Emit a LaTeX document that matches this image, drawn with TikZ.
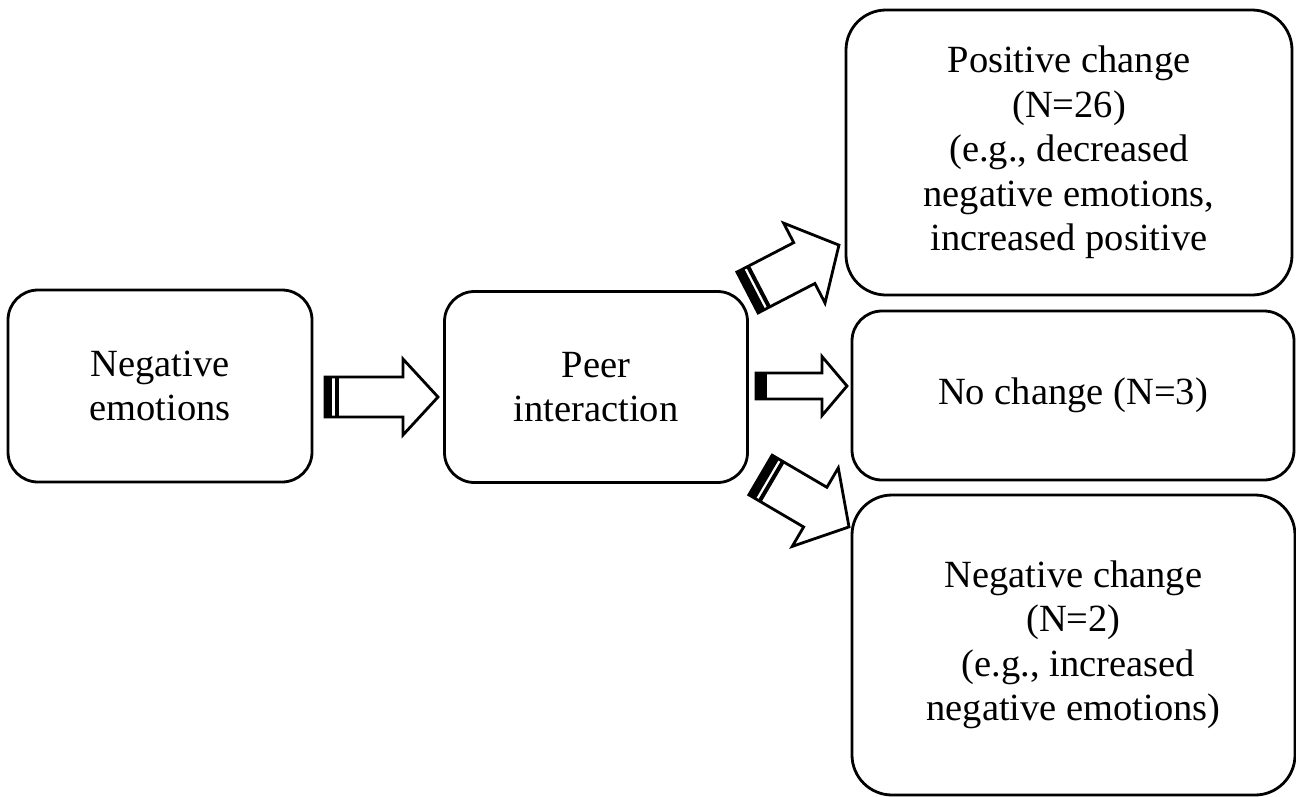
\documentclass[tikz,border=0pt]{standalone}
\usepackage{fontspec}
\setmainfont{Liberation Serif}
\usetikzlibrary{calc}

\tikzset{
  box/.style={draw, line width=2.8pt, rounded corners=30pt, align=center,
    inner sep=0pt, outer sep=0pt, font=\fontsize{38.5}{44.5}\selectfont},
  bigbox/.style={box, rounded corners=40pt},
  blockarrow/.style={draw, fill=white, line width=2.8pt, line join=miter}
}

% tail point, angle, length, shaft half width, head base, head half width, stripes
\newcommand{\stripearrow}[7]{
  \begin{scope}[shift={#1}, rotate=#2]
    \draw[blockarrow] (0,-#4) -- (#5,-#4) -- (#5,-#6) -- (#3,0)
      -- (#5,#6) -- (#5,#4) -- (0,#4) -- cycle;
    \foreach \a/\b in {#7}
      \fill (\a,-#4) rectangle (\b,#4);
  \end{scope}
}

\begin{document}
\begin{tikzpicture}[x=1pt, y=-1pt]
\useasboundingbox (0,0) rectangle (1296,796);

\node[box, minimum width=304pt, minimum height=192pt] (neg) at (160,386)
  {Negative\\emotions};
\node[box, minimum width=303pt, minimum height=191pt] (peer) at (596,387)
  {Peer\\interaction};
\node[bigbox, minimum width=446pt, minimum height=285pt] (pos) at (1069,152.5)
  {Positive change\\(N=26)\\(e.g., decreased\\negative emotions,\\increased positive};
\node[box, minimum width=442pt, minimum height=169pt] (none) at (1073,395.5)
  {No change (N=3)};
\node[bigbox, minimum width=443pt, minimum height=300pt] (negch) at (1073.5,645)
  {Negative change\\(N=2)\\~(e.g., increased\\negative emotions)};

% arrows between the boxes
\stripearrow{($(neg.east)+(13,11)$)}{0}{113}{20}{78}{38}{0/7, 9.5/13.5}
\stripearrow{($(peer.east)+(8.5,-1)$)}{0}{91}{13}{66}{29.5}{0/11}
\stripearrow{($(peer.north east)+(0,1)$)}{27.4}{103}{23}{64}{45}{0/8, 10.5/14.5}
\stripearrow{($(peer.south east)+(13,-7.5)$)}{-30.4}{102.6}{23}{63.5}{45.5}{0/8, 10.5/14.5}
\end{tikzpicture}
\end{document}
